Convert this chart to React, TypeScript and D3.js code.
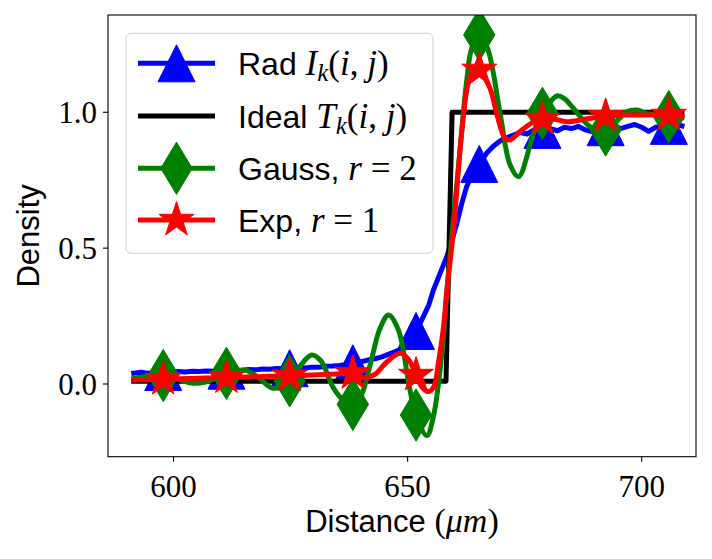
import React from "react";
import * as d3 from "d3";

// Radiograph profile (noisy measured line)
const radX = [591.5, 593, 594.5, 596, 597.8, 599.5, 601, 602.5, 604, 605.5, 607, 608.5, 610, 611.4, 613, 614.5, 616, 617.5, 619, 620.5, 622, 623.5, 624.7, 626.5, 628, 629.5, 631, 632.5, 634, 635.5, 637, 638.2, 640, 641.5, 643, 644.5, 646, 647.5, 649, 650.5, 651.8, 653, 654.5, 655.5, 657, 658.4, 659.5, 660.5, 661.5, 662.6, 663.5, 665.3, 666.9, 668.3, 669.8, 671, 672.5, 674, 675.5, 677, 678.9, 680.5, 682, 683.5, 685, 686.5, 688, 689.5, 691, 692.4, 694, 695.5, 697, 698.5, 700, 701.5, 703, 704.5, 705.9, 707.5, 708.6];
const radY = [0.040, 0.043, 0.040, 0.042, 0.044, 0.043, 0.046, 0.044, 0.047, 0.046, 0.048, 0.047, 0.050, 0.049, 0.051, 0.050, 0.053, 0.052, 0.055, 0.054, 0.057, 0.056, 0.058, 0.060, 0.059, 0.062, 0.062, 0.065, 0.066, 0.068, 0.072, 0.076, 0.082, 0.088, 0.093, 0.100, 0.110, 0.120, 0.132, 0.158, 0.195, 0.235, 0.290, 0.345, 0.410, 0.470, 0.530, 0.590, 0.660, 0.726, 0.760, 0.810, 0.850, 0.875, 0.895, 0.905, 0.915, 0.925, 0.920, 0.935, 0.935, 0.940, 0.932, 0.945, 0.940, 0.948, 0.935, 0.928, 0.942, 0.945, 0.950, 0.940, 0.948, 0.955, 0.945, 0.930, 0.945, 0.950, 0.950, 0.955, 0.950];

// Ideal step profile
const idealX = [591.5, 658.2, 659.5, 708.6];
const idealY = [0.01, 0.01, 1.0, 1.0];

// Gaussian-filtered reconstruction, r = 2
const gaussX = [591.5, 595, 597.8, 601, 604, 607, 611.4, 613, 615.5, 618, 621.3, 624.7, 627, 629.5, 631.5, 634, 636, 638.3, 640, 642, 644, 645.9, 648, 650.5, 651.8, 654.1, 655.5, 657.6, 658.4, 660.9, 662.6, 663.7, 665.5, 667.3, 669.8, 671.9, 673.7, 676.9, 678.8, 681.9, 683.5, 685.4, 689, 692.3, 694.5, 696.8, 699, 701.1, 705.8, 708.6];
const gaussY = [0.02, 0.03, 0.031, 0.018, 0.003, 0.008, 0.039, 0.048, 0.05, 0.025, -0.016, 0.012, 0.065, 0.107, 0.085, -0.01, -0.055, -0.075, -0.045, 0.07, 0.2, 0.254, 0.2, -0.022, -0.114, -0.19, -0.12, 0.16, 0.346, 0.806, 1.113, 1.235, 1.285, 1.223, 0.99, 0.806, 0.763, 0.923, 0.996, 1.06, 1.05, 1.015, 0.947, 0.935, 0.965, 1.002, 1.008, 0.996, 0.984, 0.98];

// Exponential-filtered reconstruction, r = 1
const expX = [591.5, 597.8, 605, 611.4, 618, 624.7, 631, 636, 638.3, 640.7, 643, 645.5, 648.4, 650.2, 651.8, 653, 654.4, 655.6, 656.6, 657.6, 658.4, 659.8, 661.6, 663, 664.4, 665.3, 667.6, 669.1, 670.8, 671.9, 674, 676.5, 678.8, 681, 684, 688, 692.3, 696, 700, 705.8, 708.6];
const expY = [0.015, 0.018, 0.021, 0.024, 0.027, 0.03, 0.034, 0.038, 0.039, 0.022, 0.035, 0.08, 0.113, 0.09, 0.033, -0.01, -0.028, -0.01, 0.08, 0.2, 0.346, 0.567, 0.935, 1.11, 1.165, 1.156, 1.088, 0.99, 0.904, 0.898, 0.929, 0.96, 0.975, 0.976, 0.965, 0.975, 0.985, 0.99, 0.99, 0.99, 0.985];

// Marker positions (every tenth sample)
const markX = [597.8, 611.3, 624.8, 638.3, 651.8, 665.3, 678.8, 692.3, 705.8];
const radMark = [0.044, 0.049, 0.058, 0.076, 0.195, 0.81, 0.935, 0.945, 0.95];
const gaussMark = [0.031, 0.039, 0.012, -0.075, -0.114, 1.285, 0.996, 0.935, 0.984];
const expMark = [0.018, 0.024, 0.03, 0.039, 0.033, 1.156, 0.975, 0.985, 0.99];

const xTicks = [600, 650, 700];
const yTicks = [0.0, 0.5, 1.0];

const W = 712;
const H = 559;
const left = 108, right = 696, top = 15, bottom = 456.7;

const SANS = "'Liberation Sans', sans-serif";
const SERIF = "'Liberation Serif', serif";

const MS = 37;
const LW = 5;

const trianglePath = (s: number) => `M0,${-s / 2}L${-s / 2},${s / 2}L${s / 2},${s / 2}Z`;
const diamondPath = (s: number) => {
  const h = (s * Math.SQRT2) / 2;
  const w = h * 0.6;
  return `M0,${-h}L${w},0L0,${h}L${-w},0Z`;
};
const starPath = (s: number) => {
  const R = s / 2;
  const r = R * 0.381966;
  const pts: string[] = [];
  for (let i = 0; i < 10; i++) {
    const a = (Math.PI / 5) * i;
    const rr = i % 2 === 0 ? R : r;
    pts.push(`${rr * Math.sin(a)},${-rr * Math.cos(a)}`);
  }
  return "M" + pts.join("L") + "Z";
};

type Series = {
  xs: number[];
  ys: number[];
  color: string;
  marker?: string;
  marks?: number[];
  curve: d3.CurveFactory;
};

export default function App() {
  const x = d3.scaleLinear().domain([586.0, 711.6]).range([left, right]);
  const y = d3.scaleLinear().domain([-0.2676, 1.358]).range([bottom, top]);

  const series: Series[] = [
    { xs: radX, ys: radY, color: "#0000ff", marker: trianglePath(MS), marks: radMark, curve: d3.curveLinear },
    { xs: idealX, ys: idealY, color: "#000000", curve: d3.curveLinear },
    { xs: gaussX, ys: gaussY, color: "#008000", marker: diamondPath(MS), marks: gaussMark, curve: d3.curveCatmullRom },
    { xs: expX, ys: expY, color: "#ff0000", marker: starPath(MS), marks: expMark, curve: d3.curveCatmullRom },
  ];

  const line = (s: Series) =>
    d3
      .line<number>()
      .x((_, i) => x(s.xs[i]))
      .y((d) => y(d))
      .curve(s.curve)(s.ys) ?? "";

  const legendRows = [
    { color: "#0000ff", marker: trianglePath(MS), label: "rad" },
    { color: "#000000", marker: null, label: "ideal" },
    { color: "#008000", marker: diamondPath(MS), label: "gauss" },
    { color: "#ff0000", marker: starPath(MS), label: "exp" },
  ];

  const legendLabel = (key: string) => {
    const it = { fontFamily: SERIF, fontStyle: "italic" as const, fontSize: 35 };
    const up = { fontFamily: SERIF, fontSize: 35 };
    if (key === "rad" || key === "ideal")
      return (
        <>
          <tspan>{key === "rad" ? "Rad " : "Ideal "}</tspan>
          <tspan {...it}>{key === "rad" ? "I" : "T"}</tspan>
          <tspan {...it} fontSize={25} dy={6}>k</tspan>
          <tspan {...up} dy={-6}>(</tspan>
          <tspan {...it}>i</tspan>
          <tspan {...up}>, </tspan>
          <tspan {...it}>j</tspan>
          <tspan {...up}>)</tspan>
        </>
      );
    return (
      <>
        <tspan>{key === "gauss" ? "Gauss, " : "Exp, "}</tspan>
        <tspan {...it}>r</tspan>
        <tspan {...up}>{key === "gauss" ? " = 2" : " = 1"}</tspan>
      </>
    );
  };

  const legX = 126, legY = 33.3, legW = 307, legH = 220;
  const rowY = [63.3, 116, 168.3, 220];

  return (
    <svg width={W} height={H} style={{ position: "absolute", left: 0, top: 0 }}>
      <rect width={W} height={H} fill="#fff" />
      <defs>
        <clipPath id="plot">
          <rect x={left} y={top} width={right - left} height={bottom - top} />
        </clipPath>
      </defs>

      <g clipPath="url(#plot)">
        {series.map((s, k) => (
          <g key={k}>
            <path d={line(s)} fill="none" stroke={s.color} strokeWidth={LW} strokeLinejoin="round" strokeLinecap="square" />
            {s.marker &&
              s.marks!.map((v, i) => (
                <path
                  key={i}
                  d={s.marker}
                  transform={`translate(${x(markX[i])},${y(v)})`}
                  fill={s.color}
                  stroke={s.color}
                  strokeWidth={1}
                />
              ))}
          </g>
        ))}
      </g>

      {/* frame */}
      <rect x={left} y={top} width={right - left} height={bottom - top} fill="none" stroke="#000" strokeWidth={1.1} />

      {/* x axis */}
      {xTicks.map((t) => (
        <g key={t} transform={`translate(${x(t)},${bottom})`}>
          <line y2={5} stroke="#000" strokeWidth={1.1} />
          <text y={40} textAnchor="middle" fontFamily={SERIF} fontSize={31}>
            {t}
          </text>
        </g>
      ))}
      <text x={(left + right) / 2} y={532} textAnchor="middle" fontFamily={SANS} fontSize={31}>
        Distance <tspan fontFamily={SERIF} fontSize={34}>(</tspan>
        <tspan fontFamily={SERIF} fontStyle="italic" fontSize={34}>μm</tspan>
        <tspan fontFamily={SERIF} fontSize={34}>)</tspan>
      </text>

      {/* y axis */}
      {yTicks.map((t) => (
        <g key={t} transform={`translate(${left},${y(t)})`}>
          <line x2={-5} stroke="#000" strokeWidth={1.1} />
          <text x={-11} dy="0.35em" textAnchor="end" fontFamily={SERIF} fontSize={31}>
            {t.toFixed(1)}
          </text>
        </g>
      ))}
      <text
        transform={`translate(39,${(top + bottom) / 2}) rotate(-90)`}
        textAnchor="middle"
        fontFamily={SANS}
        fontSize={31}
      >
        Density
      </text>

      {/* legend */}
      <rect x={legX} y={legY} width={legW} height={legH} rx={5} fill="#fff" fillOpacity={0.8} stroke="#cccccc" strokeWidth={1} />
      {legendRows.map((r, i) => (
        <g key={r.label}>
          <line x1={138} x2={215} y1={rowY[i]} y2={rowY[i]} stroke={r.color} strokeWidth={LW} />
          {r.marker && (
            <path d={r.marker} transform={`translate(176.5,${rowY[i]})`} fill={r.color} stroke={r.color} strokeWidth={1} />
          )}
          <text x={238} y={rowY[i]} dy="0.36em" fontFamily={SANS} fontSize={32}>
            {legendLabel(r.label)}
          </text>
        </g>
      ))}
    </svg>
  );
}
